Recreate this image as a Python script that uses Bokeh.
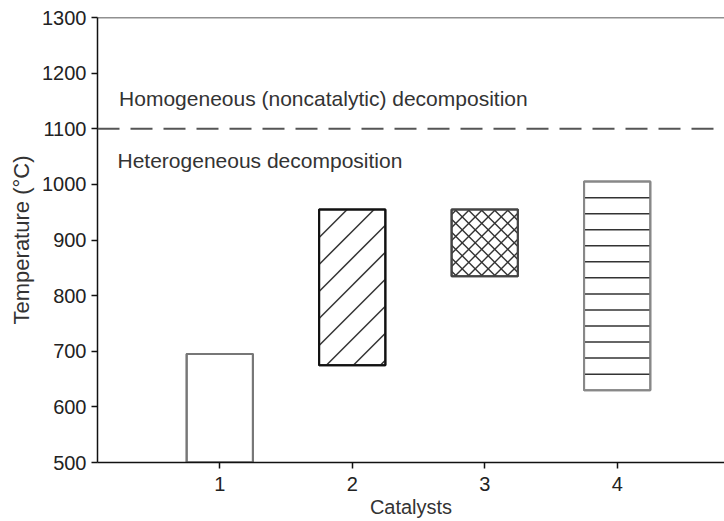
import numpy as np
from bokeh.plotting import figure
from bokeh.models import ColumnDataSource, Span, Label, FixedTicker
from bokeh.embed import file_html
from bokeh.resources import INLINE

# Operating temperature windows of the four catalysts (°C)
catalysts = [1, 2, 3, 4]
t_low = [500, 675, 835, 630]
t_high = [695, 955, 955, 1005]
boundary_temp = 1100
x_ticks = [1, 2, 3, 4]
y_ticks = [500, 600, 700, 800, 900, 1000, 1100, 1200, 1300]

FONT = "Liberation Sans"
BAR_W = 0.5

# canvas layout
W, H = 724, 521
LEFT, TOP, BOTTOM = 97, 17, 59
X_RANGE = (0.077, 4.81)
Y_RANGE = (500, 1300)
SX = (W - LEFT) / (X_RANGE[1] - X_RANGE[0])          # px per x unit
SY = (H - TOP - BOTTOM) / (Y_RANGE[1] - Y_RANGE[0])   # px per °C

p = figure(width=W, height=H, output_backend="svg", toolbar_location=None,
           x_range=X_RANGE, y_range=Y_RANGE,
           min_border_left=LEFT, min_border_top=TOP, min_border_right=0,
           min_border_bottom=BOTTOM)
p.outline_line_color = None
p.xgrid.visible = False
p.ygrid.visible = False
p.background_fill_color = "white"
p.border_fill_color = "white"


def diagonal_hatch(xc, lo, hi, spacing, direction, first=0.0):
    """45-degree hatch lines (in screen space) clipped to a bar's rectangle."""
    bw = BAR_W * SX
    bh = (hi - lo) * SY
    x0s, y0s, x1s, y1s = [], [], [], []
    if direction > 0:   # "/" : h = u + b
        b = bh - first
        while b > -bw:
            u0, u1 = max(0.0, -b), min(bw, bh - b)
            if u1 > u0:
                x0s.append(u0); y0s.append(u0 + b); x1s.append(u1); y1s.append(u1 + b)
            b -= spacing
    else:               # "\" : h = -u + b
        b = first
        while b < bw + bh:
            u0, u1 = max(0.0, b - bh), min(bw, b)
            if u1 > u0:
                x0s.append(u0); y0s.append(b - u0); x1s.append(u1); y1s.append(b - u1)
            b += spacing
    xl = xc - BAR_W / 2
    return dict(x0=[xl + u / SX for u in x0s], y0=[lo + h / SY for h in y0s],
                x1=[xl + u / SX for u in x1s], y1=[lo + h / SY for h in y1s])


bar_colors = ["#777777", "#111111", "#444444", "#888888"]
src = ColumnDataSource(dict(x=catalysts, bottom=t_low, top=t_high, color=bar_colors))
p.vbar(x="x", bottom="bottom", top="top", width=BAR_W, source=src,
       fill_color="white", line_width=2, line_color="color")

# catalyst 2: single diagonal hatch
p.segment(source=ColumnDataSource(diagonal_hatch(catalysts[1], t_low[1], t_high[1], 27, +1, 28)),
          x0="x0", y0="y0", x1="x1", y1="y1", line_color="#333333", line_width=1.5)

# catalyst 3: diagonal cross hatch
for d, f in ((+1, 5), (-1, 5)):
    p.segment(source=ColumnDataSource(diagonal_hatch(catalysts[2], t_low[2], t_high[2], 13, d, f)),
              x0="x0", y0="y0", x1="x1", y1="y1", line_color="#333333", line_width=1.4)

# catalyst 4: horizontal stripes evenly dividing its window into 13 bands
stripe_y = np.linspace(t_low[3], t_high[3], 14)[1:-1]
p.segment(x0=[catalysts[3] - BAR_W / 2] * len(stripe_y), y0=stripe_y,
          x1=[catalysts[3] + BAR_W / 2] * len(stripe_y), y1=stripe_y,
          line_color="#333333", line_width=1.5)

# redraw outlines on top of the hatching
p.vbar(x="x", bottom="bottom", top="top", width=BAR_W, source=src,
       fill_color=None, line_width=2, line_color="color")

# boundary between heterogeneous and homogeneous decomposition
p.add_layout(Span(location=boundary_temp, dimension="width", line_color="#555555",
                  line_width=2, line_dash="22 11"))
# top border of the frame
p.add_layout(Span(location=Y_RANGE[1], dimension="width", line_color="#222222", line_width=1.5))

p.add_layout(Label(x=0.24, y=1154, text="Homogeneous (noncatalytic) decomposition",
                   text_font=FONT, text_font_size="21px", text_color="#333333",
                   text_baseline="middle"))
p.add_layout(Label(x=0.228, y=1043, text="Heterogeneous decomposition",
                   text_font=FONT, text_font_size="21px", text_color="#333333",
                   text_baseline="middle"))

for ax in (p.xaxis[0], p.yaxis[0]):
    ax.axis_line_color = "#111111"
    ax.axis_line_width = 1.5
    ax.major_tick_line_color = "#111111"
    ax.major_tick_line_width = 1.5
    ax.major_tick_in = 0
    ax.major_tick_out = 6
    ax.minor_tick_line_color = None
    ax.major_label_text_font = FONT
    ax.major_label_text_font_size = "20px"
    ax.major_label_text_color = "#222222"
    ax.axis_label_text_font = FONT
    ax.axis_label_text_font_style = "normal"
    ax.axis_label_text_color = "#333333"

p.xaxis.axis_label_text_font_size = "20px"
p.yaxis.axis_label_text_font_size = "22px"
p.xaxis.ticker = FixedTicker(ticks=x_ticks)
p.yaxis.ticker = FixedTicker(ticks=y_ticks)
p.xaxis.axis_label = "Catalysts"
p.yaxis.axis_label = "Temperature (°C)"
p.xaxis.major_label_standoff = 8
p.xaxis.axis_label_standoff = 2
p.yaxis.major_label_standoff = 5
p.yaxis.axis_label_standoff = 5

open("out.html", "w").write(file_html(p, INLINE))
